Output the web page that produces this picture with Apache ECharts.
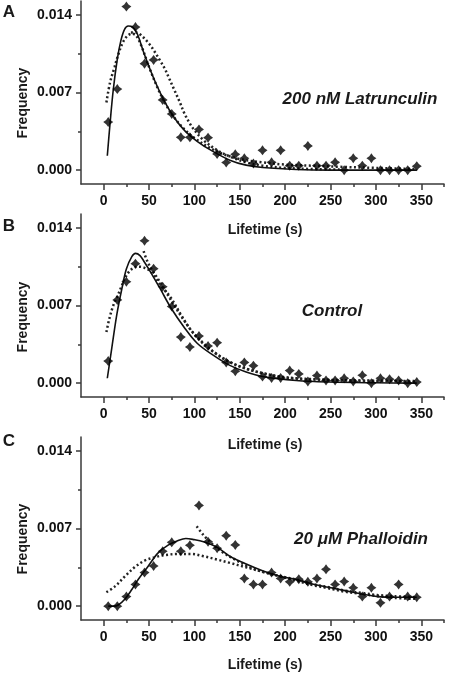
<!DOCTYPE html>
<html><head><meta charset="utf-8">
<script src="https://cdn.jsdelivr.net/npm/echarts@6/dist/echarts.min.js"></script>
<style>html,body{margin:0;padding:0;background:#fff}#c{width:450px;height:675px}</style>
</head><body><div id="c"></div>
<script>
// ---- tick labels ----
const xTickValues = [0, 50, 100, 150, 200, 250, 300, 350];
const xMinorTicks = [25, 75, 125, 175, 225, 275, 325, 375];
const yTickValues = [0, 0.007, 0.014];
const yMinorTicks = [0.0035, 0.0105];

// ---- bins (lifetime, s) ----
const binX = [5,15,25,35,45,55,65,75,85,95,105,115,125,135,145,155,165,175,185,195,205,215,225,235,245,255,265,275,285,295,305,315,325,335,345];

// ---- A: 200 nM Latrunculin ----
const latFreq = [0.00433,0.00731,0.01475,0.0129,0.0096,0.00994,0.00633,0.00507,0.00296,0.00296,0.00367,0.00293,0.00146,0.00069,0.00143,0.00107,0.0006,0.00179,0.0007,0.00179,0.0004,0.0004,0.00218,0.0004,0.0004,0.0007,0,0.00107,0.0004,0.00107,0,0,0,0,0.00036];
const latFitX = [4,7,10.5,15,19,23,27,32,37,45,56,67,78,90,103,118,139,157,175,212,250,345];
const latFitY = [0.0013,0.0042,0.0072,0.0100,0.0117,0.0127,0.0130,0.0129,0.0123,0.0104,0.0081,0.0062,0.0047,0.0035,0.0026,0.0018,0.0009,0.00045,0.00024,0.00006,0.0,0.0];
const latDot1X = [3,7,12,16,21,26,31,36,42,50,60,70,80,90,100,115,130,150,175,200,230,260,300,345];
const latDot1Y = [0.0061,0.0079,0.0093,0.0104,0.0115,0.0121,0.0123,0.0121,0.0111,0.0093,0.0073,0.0057,0.0045,0.0036,0.0029,0.0021,0.0015,0.0010,0.0007,0.0005,0.0004,0.0003,0.0002,0.0001];
const latDot2X = [30,36,42,50,56,62,67,72,78,84,89,95,100,110,125,140,157,175,200,230,260];
const latDot2Y = [0.0124,0.0124,0.0121,0.0114,0.0107,0.0099,0.0092,0.0083,0.0072,0.0061,0.0051,0.0042,0.0036,0.0027,0.0018,0.0012,0.0007,0.0004,0.0002,0.0001,0.00005];

// ---- B: Control ----
const ctrlFreq = [0.00199,0.0075,0.00914,0.01077,0.01284,0.01032,0.00869,0.00691,0.00415,0.00326,0.00424,0.00335,0.00365,0.00187,0.00107,0.00187,0.00157,0.00059,0.00047,0.00047,0.00113,0.00083,0.00015,0.00068,0.00024,0.00024,0.00044,0.00015,0.00071,0,0.00044,0.00036,0.00024,0,0.0001];
const ctrlFitX = [4,9,14.5,20,25,31,35,40,45,52.5,63,74,89,103,121,139,157,175,212,248,300,345];
const ctrlFitY = [0.00044,0.0032,0.0062,0.0085,0.0103,0.0114,0.0117,0.0115,0.0109,0.0099,0.0084,0.0068,0.005,0.0036,0.0025,0.0016,0.001,0.0006,0.00024,0.0001,0.00003,0];
const ctrlDot1X = [3,6.5,11,15.5,20,25,31,38,45,52.5,63,74,85,96,110,125,139,157,175,194,212,248,284,345];
const ctrlDot1Y = [0.0046,0.0059,0.0071,0.0079,0.0088,0.0097,0.0103,0.0105,0.0104,0.01,0.0088,0.0077,0.0062,0.0048,0.0036,0.0026,0.0019,0.0013,0.0009,0.0006,0.00044,0.0003,0.00024,0.00018];
const ctrlDot2X = [44,47,52.5,63,74,89,103,121,139,157,175,200,240,290,345];
const ctrlDot2Y = [0.0119,0.0112,0.0103,0.009,0.0075,0.0056,0.0041,0.0028,0.0019,0.0013,0.0009,0.0005,0.0003,0.0002,0.00015];

// ---- C: 20 uM Phalloidin ----
const phalFreq = [0,0,0.00086,0.00196,0.00303,0.00362,0.00495,0.00575,0.00495,0.00549,0.00908,0.00581,0.00522,0.00635,0.00552,0.00249,0.00196,0.00196,0.00303,0.00249,0.00219,0.00243,0.00219,0.00249,0.00332,0.00196,0.00222,0.00166,0.00086,0.00166,0.0003,0.00086,0.00196,0.00086,0.0008];
const phalFitX = [5,11,16,23.5,31,38,49,60,71,81.5,90.5,99.5,110,125,139,157,175,194,212,230,248,266,284,302,320,345];
const phalFitY = [0,0,0.0001,0.00065,0.0015,0.0024,0.0036,0.0048,0.0055,0.0059,0.0061,0.006,0.0058,0.0053,0.0045,0.0038,0.0032,0.0027,0.0024,0.002,0.0017,0.0014,0.0011,0.00086,0.0008,0.0008];
const phalDot1X = [3,12.7,23.5,34,45,56,67,81.5,96,110,125,139,157,175,194,212,230,248,266,284,302,320,345];
const phalDot1Y = [0.00125,0.0018,0.0027,0.0035,0.0041,0.0044,0.0046,0.0047,0.0047,0.0045,0.0042,0.0039,0.0035,0.0031,0.0027,0.0023,0.0019,0.0016,0.0013,0.0011,0.0009,0.00074,0.00065];
const phalDot2X = [102.5,110,121,132,147,161,175,194,212,230,248,266,284,302,320,345];
const phalDot2Y = [0.0072,0.0064,0.0055,0.0048,0.0041,0.0035,0.0031,0.0027,0.0024,0.002,0.0017,0.0014,0.0012,0.001,0.0009,0.0008];

// ---- text ----
const panelLetters = ['A', 'B', 'C'];
const conditionLabels = ['200 nM Latrunculin', 'Control', '20 \u03bcM Phalloidin'];
const xTitle = 'Lifetime (s)';
const yTitle = 'Frequency';

const zip = (xs, ys) => xs.map((x, i) => [x, ys[i]]);
const FONT = '"Liberation Sans", Arial, sans-serif';
const AX = '#3a3a3a';
const STAR = 'path://M0,-10 L4.2,-4.2 L10,0 L4.2,4.2 L0,10 L-4.2,4.2 L-10,0 L-4.2,-4.2 Z';

const panels = [
  {top: 1, freq: latFreq, fit: zip(latFitX, latFitY), d1: zip(latDot1X, latDot1Y), d2: zip(latDot2X, latDot2Y)},
  {top: 214, freq: ctrlFreq, fit: zip(ctrlFitX, ctrlFitY), d1: zip(ctrlDot1X, ctrlDot1Y), d2: zip(ctrlDot2X, ctrlDot2Y)},
  {top: 437, freq: phalFreq, fit: zip(phalFitX, phalFitY), d1: zip(phalDot1X, phalDot1Y), d2: zip(phalDot2X, phalDot2Y)}
];

const grid = [], xAxis = [], yAxis = [], series = [];
panels.forEach((p, i) => {
  grid.push({left: 81, top: p.top, width: 363, height: 183});
  const xBase = {gridIndex: i, type: 'value', min: -25, max: 375, position: 'bottom', offset: 0, splitLine: {show: false}};
  xAxis.push(Object.assign({}, xBase, {
    axisLine: {show: true, onZero: false, lineStyle: {color: AX, width: 1.5}},
    axisTick: {show: true, length: 6, lineStyle: {color: AX, width: 1.5}, customValues: xTickValues},
    axisLabel: {show: true, customValues: xTickValues, margin: 10, color: '#111', fontFamily: FONT, fontWeight: 'bold', fontSize: 14}
  }));
  xAxis.push(Object.assign({}, xBase, {
    axisLine: {show: false, onZero: false},
    axisTick: {show: true, length: 3, lineStyle: {color: AX, width: 1.5}, customValues: xMinorTicks},
    axisLabel: {show: false}
  }));
  const yBase = {gridIndex: i, type: 'value', min: -0.00125, max: 0.01525, position: 'left', offset: 0, splitLine: {show: false}};
  yAxis.push(Object.assign({}, yBase, {
    axisLine: {show: true, onZero: false, lineStyle: {color: AX, width: 1.5}},
    axisTick: {show: true, length: 5, lineStyle: {color: AX, width: 1.5}, customValues: yTickValues},
    axisLabel: {show: true, customValues: yTickValues, margin: 9, formatter: v => v.toFixed(3), color: '#111', fontFamily: FONT, fontWeight: 'bold', fontSize: 14}
  }));
  yAxis.push(Object.assign({}, yBase, {
    axisLine: {show: false, onZero: false},
    axisTick: {show: true, length: 3, lineStyle: {color: AX, width: 1.5}, customValues: yMinorTicks},
    axisLabel: {show: false}
  }));
  const xi = i * 2, yi = i * 2;
  series.push({type: 'line', xAxisIndex: xi, yAxisIndex: yi, data: p.d1, showSymbol: false, smooth: 0.35, silent: true,
    lineStyle: {color: '#222', width: 2.5, type: [2, 2.5]}, z: 2});
  series.push({type: 'line', xAxisIndex: xi, yAxisIndex: yi, data: p.d2, showSymbol: false, smooth: 0.35, silent: true,
    lineStyle: {color: '#222', width: 2.5, type: [2, 2.5]}, z: 2});
  series.push({type: 'line', xAxisIndex: xi, yAxisIndex: yi, data: p.fit, showSymbol: false, smooth: 0.35, silent: true,
    lineStyle: {color: '#111', width: 1.6}, z: 3});
  series.push({type: 'scatter', xAxisIndex: xi, yAxisIndex: yi, data: zip(binX, p.freq), symbol: STAR, symbolSize: 10,
    itemStyle: {color: '#000'}, z: 4});
});

const txt = (x, y, text, size, extra) => Object.assign({type: 'text', x: x, y: y, style: {text: text, fill: '#1a1a1a',
  font: 'bold ' + size + 'px ' + FONT, textAlign: 'center', textVerticalAlign: 'middle'}}, extra || {});
const graphic = [
  txt(9, 12, panelLetters[0], 17), txt(9, 226, panelLetters[1], 17), txt(9, 441, panelLetters[2], 17),
  txt(23, 103, yTitle, 14, {rotation: Math.PI / 2}),
  txt(23, 317, yTitle, 14, {rotation: Math.PI / 2}),
  txt(23, 539, yTitle, 14, {rotation: Math.PI / 2}),
  txt(265, 230, xTitle, 14), txt(265, 445, xTitle, 14), txt(265, 665, xTitle, 14)
];
const italic = (x, y, text) => ({type: 'text', x: x, y: y, style: {text: text, fill: '#1a1a1a',
  font: 'italic bold 17px ' + FONT, textAlign: 'center', textVerticalAlign: 'middle'}});
graphic.push(italic(360, 99, conditionLabels[0]), italic(332, 311, conditionLabels[1]), italic(361, 539, conditionLabels[2]));

const chart = echarts.init(document.getElementById('c'), null, {renderer: 'canvas'});
chart.setOption({animation: false, backgroundColor: '#fff', grid, xAxis, yAxis, series, graphic});
</script></body></html>
